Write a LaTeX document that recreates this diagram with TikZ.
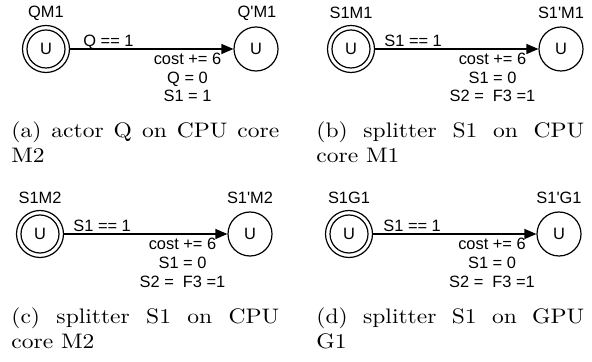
\documentclass[tikz,border=0pt]{standalone}
\usepackage{graphicx}
\usepackage{fontspec}
\newfontfamily\labfont{Liberation Sans}
\usetikzlibrary{arrows.meta}
\newcommand{\captline}[1]{\scalebox{1.12}[1]{\fontsize{10.5}{12}\selectfont\makebox[119.6pt][s]{#1}}}
\newcommand{\captrest}[1]{\scalebox{1.12}[1]{\fontsize{10.5}{12}\selectfont #1}}
\begin{document}
\begin{tikzpicture}[x=0.5pt,y=-0.5pt,
  lbl/.style={font=\labfont\fontsize{8.2}{9.5}\selectfont,inner sep=0pt},
  outerstate/.style={circle,draw,line width=0.6pt,minimum size=23.5pt,inner sep=0pt},
  innerstate/.style={circle,draw,line width=0.6pt,minimum size=19pt,inner sep=0pt,font=\labfont\fontsize{8.2}{9.5}\selectfont},
  targetstate/.style={circle,draw,line width=0.6pt,minimum size=22pt,inner sep=0pt,font=\labfont\fontsize{8.2}{9.5}\selectfont},
  trans/.style={-{Triangle[length=6pt,width=5pt]},line width=0.6pt},
  captext/.style={inner sep=0pt,anchor=base west}]
\useasboundingbox (0,0) rectangle (592,362);

% (a)
\node[outerstate] (a1) at (46,49) {};
\node[innerstate] (a1i) at (46,49) {U};
\node[targetstate] (a2) at (256,49) {U};
\node[lbl] (a1n) at (46,13) {QM1};
\node[lbl] (a2n) at (257,13) {Q'M1};
\draw[trans] (a1) -- (a2);
\node[lbl,anchor=base west] (ag) at (83,46.5) {Q == 1};
\node[lbl,anchor=base] (ac1) at (187.5,65) {cost += 6};
\node[lbl,anchor=base] (ac2) at (187.5,83.5) {Q = 0};
\node[lbl,anchor=base] (ac3) at (187.5,102) {S1 = 1};
\node[captext] (acap1) at (11,138) {\captline{(a) actor Q on CPU core}};
\node[captext] (acap2) at (11,163) {\captrest{M2}};

% (b)
\node[outerstate] (b1) at (351,49) {};
\node[innerstate] (b1i) at (351,49) {U};
\node[targetstate] (b2) at (561,49) {U};
\node[lbl] (b1n) at (351,13) {S1M1};
\node[lbl] (b2n) at (561,13) {S1'M1};
\draw[trans] (b1) -- (b2);
\node[lbl,anchor=base west] (bg) at (384,46.5) {S1 == 1};
\node[lbl,anchor=base] (bc1) at (492.5,65) {cost += 6};
\node[lbl,anchor=base] (bc2) at (492.5,83.5) {S1 = 0};
\node[lbl,anchor=base] (bc3) at (492.5,102) {S2 =\ \ F3 =1};
\node[captext] (bcap1) at (316,138) {\captline{(b) splitter S1 on CPU}};
\node[captext] (bcap2) at (316,163) {\captrest{core M1}};

% (c)
\node[outerstate] (c1) at (40,234) {};
\node[innerstate] (c1i) at (40,234) {U};
\node[targetstate] (c2) at (250,234) {U};
\node[lbl] (c1n) at (40,198) {S1M2};
\node[lbl] (c2n) at (250,198) {S1'M2};
\draw[trans] (c1) -- (c2);
\node[lbl,anchor=base west] (cg) at (73,231.5) {S1 == 1};
\node[lbl,anchor=base] (cc1) at (182.5,250) {cost += 6};
\node[lbl,anchor=base] (cc2) at (182.5,268.5) {S1 = 0};
\node[lbl,anchor=base] (cc3) at (182.5,287) {S2 =\ \ F3 =1};
\node[captext] (ccap1) at (11,323) {\captline{(c) splitter S1 on CPU}};
\node[captext] (ccap2) at (11,348) {\captrest{core M2}};

% (d)
\node[outerstate] (d1) at (349,234) {};
\node[innerstate] (d1i) at (349,234) {U};
\node[targetstate] (d2) at (559,234) {U};
\node[lbl] (d1n) at (349,198) {S1G1};
\node[lbl] (d2n) at (559,198) {S1'G1};
\draw[trans] (d1) -- (d2);
\node[lbl,anchor=base west] (dg) at (383,231.5) {S1 == 1};
\node[lbl,anchor=base] (dc1) at (492,250) {cost += 6};
\node[lbl,anchor=base] (dc2) at (492,268.5) {S1 = 0};
\node[lbl,anchor=base] (dc3) at (492,287) {S2 =\ \ F3 =1};
\node[captext] (dcap1) at (316,323) {\captline{(d) splitter S1 on GPU}};
\node[captext] (dcap2) at (316,348) {\captrest{G1}};
\end{tikzpicture}
\end{document}
